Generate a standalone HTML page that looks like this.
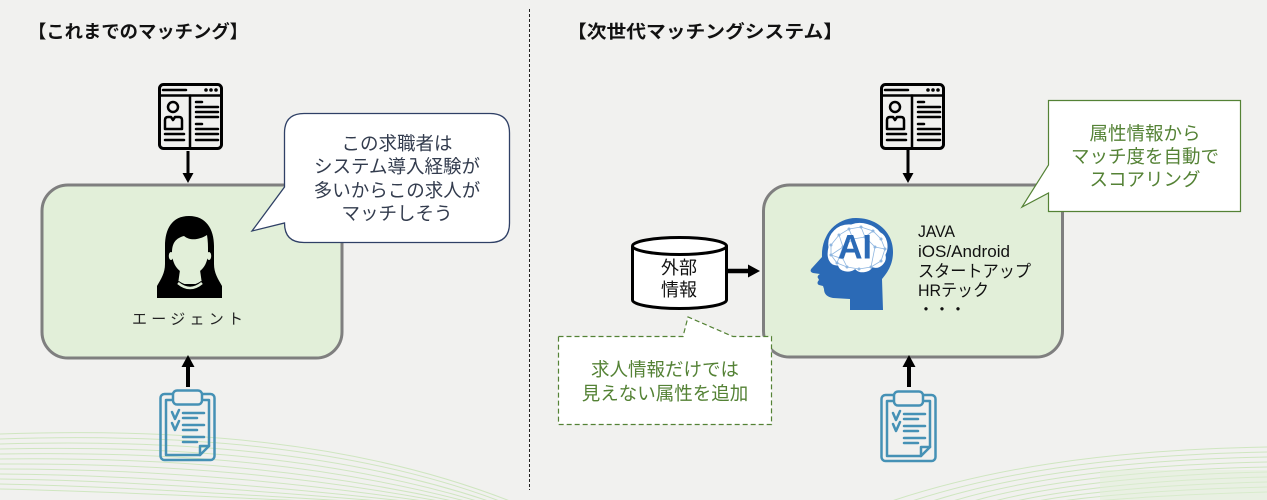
<!DOCTYPE html>
<html>
<head>
<meta charset="utf-8">
<style>
  html,body{margin:0;padding:0;}
  body{width:1267px;height:500px;overflow:hidden;background:#f1f1ef;}
  svg{display:block;}
  text{font-family:"Liberation Sans","Noto Sans CJK JP",sans-serif;}
</style>
</head>
<body>
<svg width="1267" height="500" viewBox="0 0 1267 500" xmlns="http://www.w3.org/2000/svg">
  <!-- background -->
  <rect x="0" y="0" width="1267" height="500" fill="#f1f1ef"/>
  <!-- green waves left -->
  <g fill="none" stroke="#cfe6c0" stroke-width="1">
    <path d="M0 434 C180 428 360 440 520 505"/>
    <path d="M0 439 C180 433 360 446 510 505"/>
    <path d="M0 444 C180 439 350 452 500 505"/>
    <path d="M0 449 C180 445 340 458 490 505"/>
    <path d="M0 454 C180 451 330 464 480 505"/>
    <path d="M0 459 C170 457 320 470 470 505"/>
    <path d="M0 464 C170 463 310 476 460 505"/>
    <path d="M0 469 C160 469 300 482 450 505"/>
    <path d="M0 474 C150 475 290 488 440 505"/>
    <path d="M0 479 C150 481 280 493 430 505"/>
    <path d="M0 484 C140 487 270 497 420 505"/>
    <path d="M0 489 C140 492 260 500 410 505"/>
  </g>
  <!-- green waves right -->
  <g fill="none" stroke="#cfe6c0" stroke-width="1">
    <path d="M880 505 C980 470 1100 450 1267 447"/>
    <path d="M900 505 C990 474 1105 455 1267 452"/>
    <path d="M920 505 C1000 478 1110 460 1267 457"/>
    <path d="M940 505 C1010 482 1115 465 1267 462"/>
    <path d="M960 505 C1020 486 1120 470 1267 467"/>
    <path d="M980 505 C1030 490 1125 475 1267 472"/>
    <path d="M1000 505 C1040 494 1130 480 1267 477"/>
    <path d="M1020 505 C1050 497 1135 485 1267 482"/>
    <path d="M1040 505 C1060 500 1140 490 1267 487"/>
    <path d="M1060 505 C1080 502 1150 495 1267 492"/>
  </g>
  <rect x="1100" y="470" width="167" height="30" fill="#e2f0d8" opacity="0.5"/>

  <!-- divider -->
  <line x1="529.5" y1="9" x2="529.5" y2="490" stroke="#222" stroke-width="1" stroke-dasharray="3 2"/>

  <!-- titles -->
  <text x="28" y="38" font-size="18" font-weight="bold" fill="#111" textLength="220" lengthAdjust="spacingAndGlyphs">【これまでのマッチング】</text>
  <text x="567" y="38" font-size="18" font-weight="bold" fill="#111" textLength="276" lengthAdjust="spacingAndGlyphs">【次世代マッチングシステム】</text>

  <!-- ============ LEFT ============ -->
  <rect x="42" y="185" width="300" height="173" rx="26" fill="#e2efd9" stroke="#7f7f7f" stroke-width="3"/>

  <!-- resume icon left -->
  <g transform="translate(158,83)" fill="none" stroke="#000" stroke-width="3" stroke-linecap="round">
    <rect x="1.5" y="1.5" width="62" height="64" rx="4"/>
    <line x1="1.5" y1="12.5" x2="63.5" y2="12.5" stroke-width="2.5"/>
    <line x1="5" y1="7" x2="28" y2="7" stroke-width="2.5"/>
    <circle cx="48" cy="7" r="1.3" fill="#000" stroke-width="1"/>
    <circle cx="53" cy="7" r="1.3" fill="#000" stroke-width="1"/>
    <circle cx="58" cy="7" r="1.3" fill="#000" stroke-width="1"/>
    <line x1="32" y1="12.5" x2="32" y2="65" stroke-width="2.5"/>
    <circle cx="15" cy="24" r="5" stroke-width="2.5"/>
    <path d="M7 46 V37 C7 35 8 34 10 34 L13 34 L15 37 L17 34 L21 34 C23 34 24 35 24 37 V46 Z" stroke-width="2.5" stroke-linejoin="round"/>
    <line x1="7" y1="51" x2="26" y2="51" stroke-width="2.5"/>
    <line x1="7" y1="57" x2="26" y2="57" stroke-width="2.5"/>
    <line x1="38" y1="19" x2="44" y2="19" stroke-width="2.5"/>
    <line x1="38" y1="24" x2="60" y2="24" stroke-width="2.5"/>
    <line x1="38" y1="29" x2="60" y2="29" stroke-width="2.5"/>
    <line x1="38" y1="34" x2="60" y2="34" stroke-width="2.5"/>
    <line x1="38" y1="41" x2="44" y2="41" stroke-width="2.5"/>
    <line x1="38" y1="46" x2="60" y2="46" stroke-width="2.5"/>
    <line x1="38" y1="51" x2="60" y2="51" stroke-width="2.5"/>
    <line x1="38" y1="57" x2="60" y2="57" stroke-width="2.5"/>
  </g>
  <line x1="188" y1="151" x2="188" y2="174" stroke="#000" stroke-width="3"/>
  <polygon points="182.5,173 193.5,173 188,183" fill="#000"/>

  <!-- agent icon -->
  <g transform="translate(157,216)">
    <path d="M32 0 C15 0 8 13 8 30 L8 48 C8 57 4 63 0 70 L0 82 L65 82 L65 70 C61 63 57 57 57 48 L57 30 C57 13 49 0 32 0 Z" fill="#000"/>
    <path d="M15 36 C15 27 19 22 27 20 C33 25 42 24 50 19 C51 25 51 30 51 36 C51 50 43 58 33 59 C23 58 15 50 15 36 Z" fill="#e2efd9"/>
    <ellipse cx="14" cy="40" rx="2.2" ry="4" fill="#e2efd9"/>
    <ellipse cx="52" cy="40" rx="2.2" ry="4" fill="#e2efd9"/>
    <path d="M23 54 L43 54 L45 68 L21 68 Z" fill="#e2efd9"/>
    <path d="M4 82 C6 72 14 68 22 65 C28 70 38 70 44 65 C52 68 60 72 62 82 Z" fill="#000"/>
    <path d="M21 67 Q33 77 45 67" fill="none" stroke="#e2efd9" stroke-width="2.5"/>
  </g>
  <text x="132" y="324" font-size="15" fill="#222" textLength="111" lengthAdjust="spacing">エージェント</text>

  <line x1="188" y1="387" x2="188" y2="365" stroke="#000" stroke-width="4"/>
  <polygon points="181.5,367 194.5,367 188,355" fill="#000"/>

  <!-- clipboard left -->
  <g transform="translate(159,389)" fill="none" stroke="#4591b5" stroke-width="2.5" stroke-linecap="round" stroke-linejoin="round">
    <rect x="1.5" y="5" width="54" height="66" rx="4"/>
    <path d="M7 11 H50 V57 L41 66 H7 Z"/>
    <path d="M41 66 V57 H50"/>
    <rect x="14" y="1.5" width="29" height="14" rx="4" fill="#f1f1ef"/>
    <path d="M13 23 L16 30 L20 21"/>
    <path d="M13 34 L16 41 L20 32"/>
    <line x1="24" y1="24" x2="45" y2="24"/>
    <line x1="24" y1="29" x2="38" y2="29"/>
    <line x1="24" y1="36" x2="45" y2="36"/>
    <line x1="24" y1="41" x2="38" y2="41"/>
    <line x1="24" y1="48" x2="45" y2="48"/>
    <line x1="24" y1="53" x2="38" y2="53"/>
  </g>

  <!-- speech bubble left -->
  <path d="M304 113.5 H490 Q509.5 113.5 509.5 133 V223 Q509.5 242.5 490 242.5 H304 Q284.5 242.5 284.5 223 L252 231 L284.5 187 V133 Q284.5 113.5 304 113.5 Z" fill="#ffffff" stroke="#2f4066" stroke-width="1.3"/>
  <g font-size="18.5" fill="#333c4e" text-anchor="middle">
    <text x="397" y="150">この求職者は</text>
    <text x="397" y="173">システム導入経験が</text>
    <text x="397" y="197">多いからこの求人が</text>
    <text x="397" y="220">マッチしそう</text>
  </g>

  <!-- ============ RIGHT ============ -->
  <rect x="763.5" y="185" width="299" height="172" rx="26" fill="#e2efd9" stroke="#7f7f7f" stroke-width="3"/>

  <!-- resume icon right -->
  <g transform="translate(880,83)" fill="none" stroke="#000" stroke-width="3" stroke-linecap="round">
    <rect x="1.5" y="1.5" width="62" height="64" rx="4"/>
    <line x1="1.5" y1="12.5" x2="63.5" y2="12.5" stroke-width="2.5"/>
    <line x1="5" y1="7" x2="28" y2="7" stroke-width="2.5"/>
    <circle cx="48" cy="7" r="1.3" fill="#000" stroke-width="1"/>
    <circle cx="53" cy="7" r="1.3" fill="#000" stroke-width="1"/>
    <circle cx="58" cy="7" r="1.3" fill="#000" stroke-width="1"/>
    <line x1="32" y1="12.5" x2="32" y2="65" stroke-width="2.5"/>
    <circle cx="15" cy="24" r="5" stroke-width="2.5"/>
    <path d="M7 46 V37 C7 35 8 34 10 34 L13 34 L15 37 L17 34 L21 34 C23 34 24 35 24 37 V46 Z" stroke-width="2.5" stroke-linejoin="round"/>
    <line x1="7" y1="51" x2="26" y2="51" stroke-width="2.5"/>
    <line x1="7" y1="57" x2="26" y2="57" stroke-width="2.5"/>
    <line x1="38" y1="19" x2="44" y2="19" stroke-width="2.5"/>
    <line x1="38" y1="24" x2="60" y2="24" stroke-width="2.5"/>
    <line x1="38" y1="29" x2="60" y2="29" stroke-width="2.5"/>
    <line x1="38" y1="34" x2="60" y2="34" stroke-width="2.5"/>
    <line x1="38" y1="41" x2="44" y2="41" stroke-width="2.5"/>
    <line x1="38" y1="46" x2="60" y2="46" stroke-width="2.5"/>
    <line x1="38" y1="51" x2="60" y2="51" stroke-width="2.5"/>
    <line x1="38" y1="57" x2="60" y2="57" stroke-width="2.5"/>
  </g>
  <line x1="908" y1="150" x2="908" y2="174" stroke="#000" stroke-width="3"/>
  <polygon points="902.5,173 913.5,173 908,183" fill="#000"/>

  <!-- AI head -->
  <g transform="translate(809,217)">
    <path d="M47 1 C68 1 84 15 84 35 C84 48 78 56 73 62 L74 93 L41 93 L41 82 L24 81 C18 80 15 77 15 72 L14 69 L10 68 C8 67 8 65 10 63 L9 61 C8 60 9 58 11 57 L4 56 C1 55 1 53 3 51 L13 40 C12 18 27 1 47 1 Z" fill="#2b6ab6"/>
    <path d="M18 30 C16 16 28 5 42 6 C52 2 66 6 72 14 C80 18 82 30 78 38 C80 46 72 54 64 52 C60 58 50 58 46 54 C40 58 30 56 28 50 C20 50 15 42 18 30 Z" fill="#ffffff" stroke="#2b6ab6" stroke-width="3"/>
    <g stroke="#8fb6e0" stroke-width="0.8" fill="none">
      <path d="M22 28 L30 18 L40 12 L52 10 L64 14 L72 22 L76 32 L72 44 L62 50 L50 52 L38 50 L28 46 L22 38 Z"/>
      <path d="M30 18 L34 30 L28 46 M40 12 L44 22 L34 30 M52 10 L56 20 L64 14 M56 20 L66 30 L76 32 M66 30 L62 50 M44 22 L56 20 M22 38 L34 30 M38 50 L34 42 L22 38"/>
    </g>
    <g fill="#8fb6e0">
      <circle cx="22" cy="28" r="1.5"/><circle cx="30" cy="18" r="1.5"/><circle cx="40" cy="12" r="1.5"/>
      <circle cx="52" cy="10" r="1.5"/><circle cx="64" cy="14" r="1.5"/><circle cx="72" cy="22" r="1.5"/>
      <circle cx="76" cy="32" r="1.5"/><circle cx="72" cy="44" r="1.5"/><circle cx="62" cy="50" r="1.5"/>
      <circle cx="50" cy="52" r="1.5"/><circle cx="38" cy="50" r="1.5"/><circle cx="28" cy="46" r="1.5"/>
      <circle cx="22" cy="38" r="1.5"/><circle cx="34" cy="30" r="1.5"/><circle cx="56" cy="20" r="1.5"/>
      <circle cx="66" cy="30" r="1.5"/><circle cx="44" cy="22" r="1.5"/>
    </g>
    <text x="46" y="41.5" font-size="34" font-weight="bold" fill="#2b6ab6" text-anchor="middle" textLength="34" lengthAdjust="spacingAndGlyphs">AI</text>
  </g>

  <!-- list text -->
  <g font-size="17" fill="#111">
    <text x="918" y="237" textLength="37" lengthAdjust="spacingAndGlyphs">JAVA</text>
    <text x="918" y="257" textLength="92" lengthAdjust="spacingAndGlyphs">iOS/Android</text>
    <text x="918" y="277" textLength="113" lengthAdjust="spacingAndGlyphs">スタートアップ</text>
    <text x="918" y="296" textLength="71" lengthAdjust="spacingAndGlyphs">HRテック</text>
    <text x="918" y="315" font-size="16">・・・</text>
  </g>

  <!-- cylinder -->
  <path d="M632.5 246 V300 A47 8.5 0 0 0 726.5 300 V246" fill="#ffffff" stroke="#000" stroke-width="3"/>
  <ellipse cx="679.5" cy="246" rx="47" ry="8.5" fill="#ffffff" stroke="#000" stroke-width="3"/>
  <g font-size="18" fill="#111" text-anchor="middle">
    <text x="679" y="274">外部</text>
    <text x="679" y="296">情報</text>
  </g>
  <line x1="727" y1="271" x2="750" y2="271" stroke="#000" stroke-width="4.5"/>
  <polygon points="748,264.5 748,277.5 760,271" fill="#000"/>

  <line x1="909" y1="387" x2="909" y2="365" stroke="#000" stroke-width="4"/>
  <polygon points="902.5,367 915.5,367 909,355" fill="#000"/>

  <!-- clipboard right -->
  <g transform="translate(880,390)" fill="none" stroke="#4591b5" stroke-width="2.5" stroke-linecap="round" stroke-linejoin="round">
    <rect x="1.5" y="5" width="54" height="66" rx="4"/>
    <path d="M7 11 H50 V57 L41 66 H7 Z"/>
    <path d="M41 66 V57 H50"/>
    <rect x="14" y="1.5" width="29" height="14" rx="4" fill="#f1f1ef"/>
    <path d="M13 23 L16 30 L20 21"/>
    <path d="M13 34 L16 41 L20 32"/>
    <line x1="24" y1="24" x2="45" y2="24"/>
    <line x1="24" y1="29" x2="38" y2="29"/>
    <line x1="24" y1="36" x2="45" y2="36"/>
    <line x1="24" y1="41" x2="38" y2="41"/>
    <line x1="24" y1="48" x2="45" y2="48"/>
    <line x1="24" y1="53" x2="38" y2="53"/>
  </g>

  <!-- right green callout -->
  <path d="M1048.5 100.5 H1240.5 V211.5 H1048.5 V193 L1022 207 L1048.5 165 Z" fill="#ffffff" stroke="#548235" stroke-width="1.2"/>
  <g font-size="18.5" fill="#548235" text-anchor="middle">
    <text x="1145" y="140">属性情報から</text>
    <text x="1145" y="163">マッチ度を自動で</text>
    <text x="1145" y="186">スコアリング</text>
  </g>

  <!-- dashed callout -->
  <path d="M558.5 336.5 H683 L688 317 L733 336.5 H771.5 V424.5 H558.5 Z" fill="#ffffff" stroke="#548235" stroke-width="1.2" stroke-dasharray="5 3"/>
  <g font-size="18.5" fill="#548235" text-anchor="middle">
    <text x="665" y="376">求人情報だけでは</text>
    <text x="665" y="400">見えない属性を追加</text>
  </g>
</svg>
</body>
</html>
